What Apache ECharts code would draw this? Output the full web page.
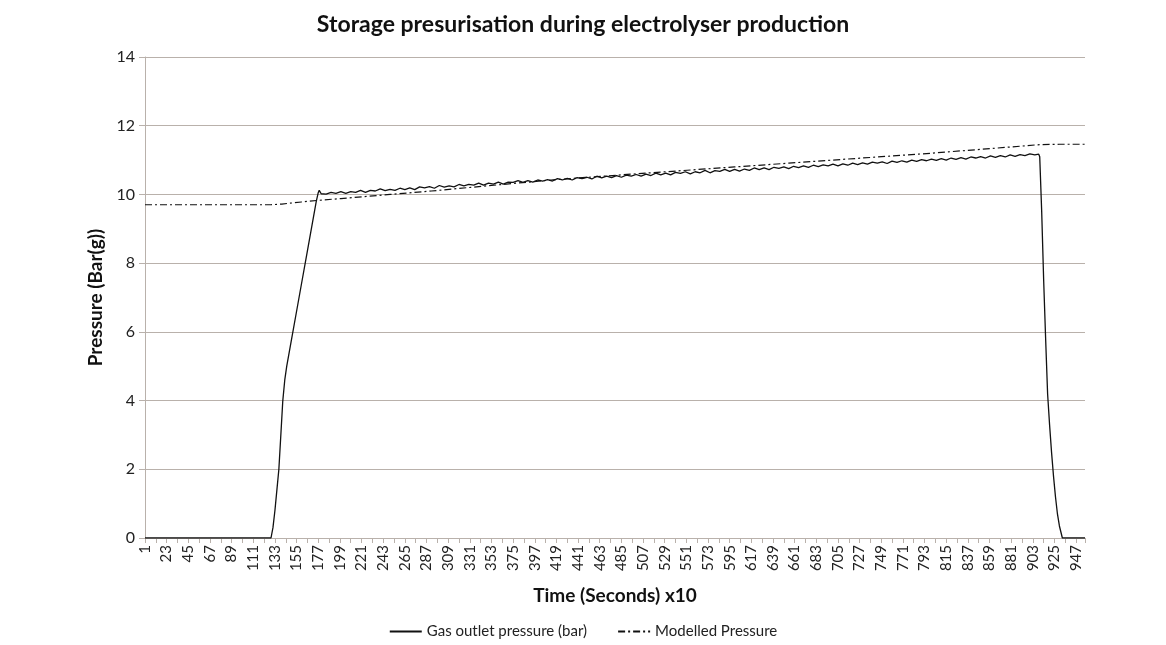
<!DOCTYPE html>
<html>
<head>
<meta charset="utf-8">
<script src="https://cdn.jsdelivr.net/npm/echarts@6/dist/echarts.min.js"></script>
<style>html,body{margin:0;padding:0;background:#fff;}#c{width:1166px;height:645px;}</style>
</head>
<body>
<div id="c"></div>
<script>
// ---- data ----
var titleText = 'Storage presurisation during electrolyser production';
var xAxisName = 'Time (Seconds) x10';
var yAxisName = 'Pressure (Bar(g))';
var seriesNames = ['Gas outlet pressure (bar)', 'Modelled Pressure'];
var xMin = 1, xMax = 956, xStep = 22;
var yTicks = [0, 2, 4, 6, 8, 10, 12, 14];

// Gas outlet pressure: [time index, bar]
var gasTime = [1, 129, 131, 133, 135, 137, 139, 141, 143, 145, 150, 155, 160, 165, 170, 175, 177, 178,
  180,185,190,195,200,205,210,215,220,225,230,235,240,245,250,255,260,265,270,275,280,285,290,295,
  300,305,310,315,320,325,330,335,340,345,350,355,360,365,370,375,380,385,390,395,400,405,410,415,
  420,425,430,435,440,445,450,455,460,465,470,475,480,485,490,495,500,505,510,515,520,525,530,535,
  540,545,550,555,560,565,570,575,580,585,590,595,600,605,610,615,620,625,630,635,640,645,650,655,
  660,665,670,675,680,685,690,695,700,705,710,715,720,725,730,735,740,745,750,755,760,765,770,775,
  780,785,790,795,800,805,810,815,820,825,830,835,840,845,850,855,860,865,870,875,880,885,890,895,
  900,905,909,910,912,914,916,918,920,922,924,926,928,930,933,956];
var gasValue = [0, 0, 0.3, 0.8, 1.4, 2.0, 3.0, 4.0, 4.6, 5.0, 5.8, 6.6, 7.4, 8.2, 9.0, 9.8, 10.05, 10.12,
  10.02,10.01,10.06,10.03,10.08,10.03,10.08,10.06,10.12,10.06,10.12,10.10,10.16,10.11,10.15,10.12,10.18,10.14,10.19,10.14,10.22,10.19,10.23,10.18,
  10.26,10.21,10.25,10.22,10.29,10.25,10.29,10.27,10.33,10.27,10.33,10.30,10.36,10.30,10.36,10.35,10.40,10.35,10.40,10.36,10.42,10.39,10.43,10.39,
  10.46,10.42,10.47,10.42,10.49,10.46,10.50,10.45,10.53,10.48,10.53,10.49,10.55,10.50,10.56,10.53,10.58,10.53,10.59,10.55,10.62,10.57,10.62,10.57,
  10.64,10.61,10.66,10.60,10.66,10.63,10.70,10.63,10.69,10.67,10.73,10.67,10.73,10.68,10.74,10.70,10.77,10.72,10.77,10.72,10.79,10.76,10.80,10.75,
  10.82,10.78,10.83,10.79,10.85,10.81,10.86,10.83,10.88,10.83,10.89,10.85,10.91,10.87,10.92,10.88,10.94,10.91,10.95,10.90,10.97,10.93,10.98,10.94,
  11.00,10.96,11.01,10.98,11.03,10.99,11.04,11.00,11.06,11.02,11.07,11.03,11.09,11.06,11.10,11.06,11.12,11.08,11.13,11.09,11.15,11.11,11.16,11.13,
  11.18,11.15,11.17,11.1,9.5,7.5,5.8,4.2,3.3,2.5,1.8,1.2,0.7,0.35,0,0];

// Modelled pressure: [time index, bar]
var modelTime  = [1, 129, 140, 150, 160, 178, 200, 250, 292, 360, 418, 500, 600, 655, 700, 800, 880, 910, 930, 956];
var modelValue = [9.70, 9.70, 9.72, 9.75, 9.78, 9.83, 9.88, 10.00, 10.10, 10.28, 10.43, 10.60, 10.80, 10.91, 11.00, 11.20, 11.38, 11.45, 11.46, 11.46];

function pairs(xs, ys) { return xs.map(function (x, i) { return [x, ys[i]]; }); }

var chart = echarts.init(document.getElementById('c'), null, { renderer: 'canvas' });
var FONT = 'Lato, "Open Sans", sans-serif';
var gridColor = '#b9b1ab';
chart.setOption({
  animation: false,
  backgroundColor: '#ffffff',
  title: {
    text: titleText, left: 'center', top: 8,
    textStyle: { fontFamily: FONT, fontWeight: 'bold', fontSize: 23, color: '#111' }
  },
  legend: {
    bottom: 1, left: 'center', itemWidth: 32, itemHeight: 10, itemGap: 30,
    textStyle: { fontFamily: FONT, fontSize: 15, color: '#222' },
    itemStyle: { opacity: 0 },
    data: seriesNames
  },
  grid: { left: 145, right: 81, top: 57, bottom: 107, containLabel: false },
  xAxis: {
    type: 'value', min: xMin, max: xMax, interval: xStep,
    name: xAxisName, nameLocation: 'middle', nameGap: 48,
    nameTextStyle: { fontFamily: FONT, fontWeight: 'bold', fontSize: 19, color: '#111' },
    axisLine: { show: true, onZero: false, lineStyle: { color: gridColor, width: 1 } },
    axisTick: { show: true, length: 5, lineStyle: { color: gridColor } },
    minorTick: { show: true, splitNumber: 2, length: 5, lineStyle: { color: gridColor } },
    splitLine: { show: false },
    axisLabel: { rotate: 90, fontFamily: FONT, fontSize: 15, color: '#222', margin: 7, showMaxLabel: false }
  },
  yAxis: {
    type: 'value', min: yTicks[0], max: yTicks[yTicks.length - 1], interval: yTicks[1] - yTicks[0],
    name: yAxisName, nameLocation: 'middle', nameGap: 40,
    nameTextStyle: { fontFamily: FONT, fontWeight: 'bold', fontSize: 19, color: '#111' },
    axisLine: { show: true, lineStyle: { color: gridColor, width: 1 } },
    axisTick: { show: true, length: 6, lineStyle: { color: gridColor } },
    splitLine: { show: true, lineStyle: { color: gridColor, width: 1 } },
    axisLabel: { fontFamily: FONT, fontSize: 16, color: '#222', margin: 10 }
  },
  series: [
    {
      name: seriesNames[0], type: 'line', symbol: 'none',
      data: pairs(gasTime, gasValue),
      lineStyle: { color: '#111', width: 1.3, type: 'solid' },
      itemStyle: { color: 'rgba(0,0,0,0)' }
    },
    {
      name: seriesNames[1], type: 'line', symbol: 'none',
      data: pairs(modelTime, modelValue),
      lineStyle: { color: '#111', width: 1.2, type: [7, 3, 2, 3] },
      itemStyle: { color: 'rgba(0,0,0,0)' }
    }
  ]
});
</script>
</body>
</html>
